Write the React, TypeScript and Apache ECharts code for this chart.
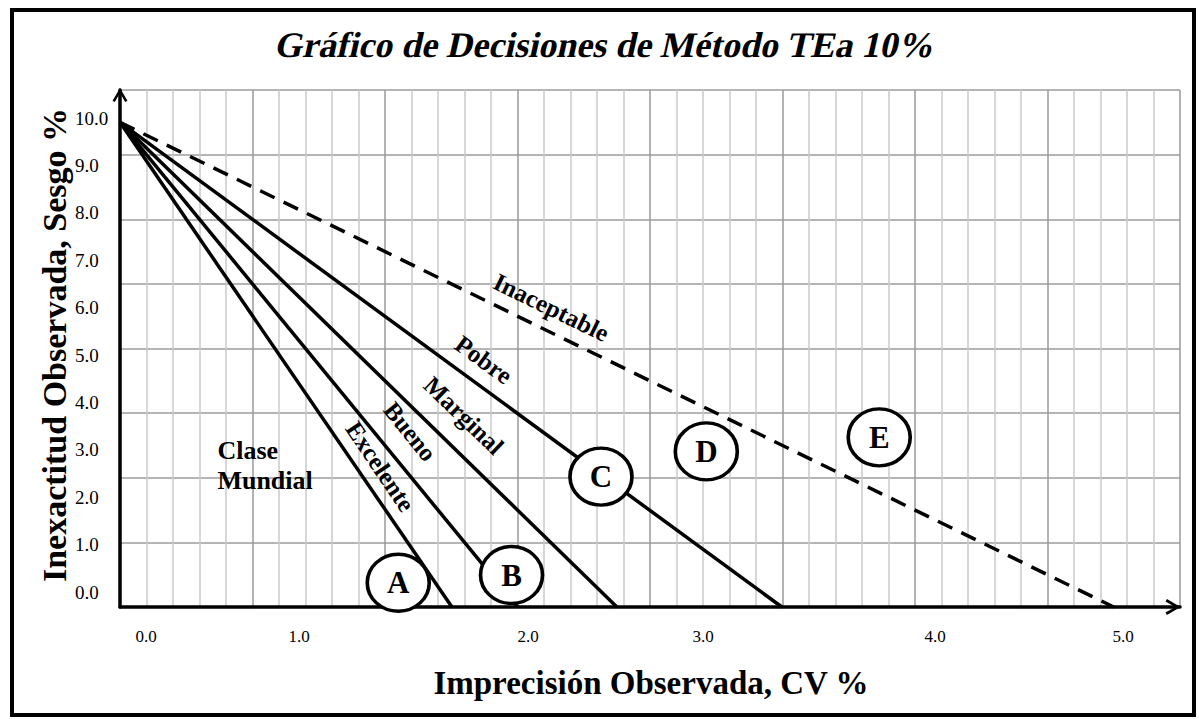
import React, { useEffect, useRef } from 'react';
import * as echarts from 'echarts';

const FONT = '"Liberation Serif", "Times New Roman", serif';

const titleText = 'Gráfico de Decisiones de Método TEa 10%';
const xAxisTitle = 'Imprecisión Observada, CV %';
const yAxisTitle = 'Inexactitud Observada, Sesgo %';

// Decision lines: from bias = TEa (y axis) down to CV intercept (x axis)
const lineNames = ['6 sigma', '5 sigma', '4 sigma', '3 sigma', '2 sigma'];
const lineStartBias = [10, 10, 10, 10, 10];
const lineEndCV = [1.67, 2.0, 2.5, 3.33, 5.0];
const lineDashed = [false, false, false, false, true];

// Zone labels written along the lines
const zoneNames = ['Excelente', 'Bueno', 'Marginal', 'Pobre', 'Inaceptable'];
const zoneCV = [1.31, 1.46, 1.73, 1.83, 2.17];
const zoneBias = [2.9, 3.62, 3.95, 5.1, 6.18];
const zoneAngle = [-56, -51, -44, -36, -26];

const worldClassName = 'Clase\nMundial';
const worldClassCV = [0.49];
const worldClassBias = [2.91];

// Circled letters
const circleLetters = ['A', 'B', 'C', 'D', 'E'];
const circleCV = [1.4, 1.97, 2.42, 2.95, 3.82];
const circleBias = [0.5, 0.66, 2.69, 3.21, 3.5];

// Tick labels
const yTickLabels = ['0.0', '1.0', '2.0', '3.0', '4.0', '5.0', '6.0', '7.0', '8.0', '9.0', '10.0'];
const xTickLabels = ['0.0', '1.0', '2.0', '3.0', '4.0', '5.0'];
const xTickLabelPx = [146, 299, 528, 703, 935, 1123];

const CHEVRON = 'path://M0,17L10,0L20,17L17,18.8L10,6.6L3,18.8Z';
const ELLIPSE = 'path://M0,50A50,50 0 1,0 100,50A50,50 0 1,0 0,50Z';

export default function App() {
  const ref = useRef<HTMLDivElement>(null);

  useEffect(() => {
    if (!ref.current) return;
    const chart = echarts.init(ref.current, null, { renderer: 'svg' });

    const lineSeries = lineNames.map((name, i) => ({
      type: 'line',
      name,
      xAxisIndex: 0,
      yAxisIndex: 0,
      data: [
        [0, lineStartBias[i]],
        [lineEndCV[i], 0],
      ],
      showSymbol: false,
      symbol: 'none',
      silent: true,
      z: 3,
      lineStyle: {
        color: '#000',
        width: 3.5,
        type: lineDashed[i] ? [16, 10] : 'solid',
      },
    }));

    const option: any = {
      animation: false,
      backgroundColor: '#fff',
      textStyle: { fontFamily: FONT },
      grid: [
        { left: 120, top: 90, width: 1060, height: 517 },
        { left: 120, top: 118, width: 1060, height: 474 },
      ],
      xAxis: [
        {
          type: 'value',
          gridIndex: 0,
          min: 0,
          max: 16 / 3,
          interval: 2 / 3,
          axisLine: {
            show: true,
            onZero: false,
            symbol: ['none', CHEVRON],
            symbolSize: [17, 15],
            symbolOffset: [0, -7],
            lineStyle: { color: '#000', width: 3.5 },
          },
          axisTick: { show: false },
          axisLabel: { show: false },
          splitLine: { show: true, lineStyle: { color: '#9a9a9a', width: 1.5 } },
          minorTick: { show: false, splitNumber: 5 },
          minorSplitLine: { show: true, lineStyle: { color: '#cacaca', width: 1.5 } },
        },
        { type: 'value', gridIndex: 1, show: false, min: 0, max: 1 },
      ],
      yAxis: [
        {
          type: 'value',
          gridIndex: 0,
          min: 0,
          max: 32 / 3,
          interval: 4 / 3,
          axisLine: {
            show: true,
            onZero: false,
            symbol: ['none', CHEVRON],
            symbolSize: [15, 14],
            symbolOffset: [0, -5],
            lineStyle: { color: '#000', width: 3.5 },
          },
          axisTick: { show: false },
          axisLabel: { show: false },
          splitLine: { show: true, lineStyle: { color: '#9c9c9c', width: 1.5 } },
        },
        {
          type: 'category',
          gridIndex: 1,
          data: yTickLabels,
          boundaryGap: false,
          axisLine: { show: false },
          axisTick: { show: false },
          splitLine: { show: false },
          axisLabel: {
            show: true,
            interval: 0,
            align: 'left',
            margin: 45,
            fontSize: 19,
            fontFamily: FONT,
            color: '#000',
          },
        },
      ],
      series: [
        ...lineSeries,
        {
          type: 'scatter',
          name: 'circles',
          xAxisIndex: 0,
          yAxisIndex: 0,
          silent: true,
          z: 5,
          symbol: ELLIPSE,
          symbolSize: [62, 57],
          itemStyle: { color: '#fff', borderColor: '#000', borderWidth: 3.5, opacity: 1 },
          label: {
            show: true,
            position: 'inside',
            formatter: '{b}',
            fontSize: 31,
            fontWeight: 'bold',
            fontFamily: FONT,
            color: '#000',
          },
          data: circleLetters.map((n, i) => ({ name: n, value: [circleCV[i], circleBias[i]] })),
        },
        {
          type: 'scatter',
          name: 'zones',
          xAxisIndex: 0,
          yAxisIndex: 0,
          silent: true,
          z: 6,
          symbolSize: 1,
          itemStyle: { color: 'rgba(255,255,255,0)', opacity: 1 },
          label: {
            show: true,
            position: 'inside',
            formatter: '{b}',
            fontSize: 25,
            fontWeight: 'bold',
            fontFamily: FONT,
            color: '#000',
            textBorderWidth: 0,
          },
          data: [
            ...zoneNames.map((n, i) => ({
              name: n,
              value: [zoneCV[i], zoneBias[i]],
              label: { rotate: zoneAngle[i] },
            })),
            {
              name: worldClassName,
              value: [worldClassCV[0], worldClassBias[0]],
              label: { align: 'left', lineHeight: 30, fontSize: 26 },
            },
          ],
        },
      ],
      graphic: [
        {
          type: 'rect',
          shape: { x: 12, y: 10, width: 1182, height: 705 },
          style: { fill: 'none', stroke: '#000', lineWidth: 4 },
          silent: true,
        },
        {
          type: 'text',
          x: 606,
          y: 45,
          skewX: -0.22,
          style: {
            text: titleText,
            fontSize: 36,
            fontWeight: 'bold',
            fontFamily: FONT,
            fill: '#000',
            align: 'center',
            verticalAlign: 'middle',
          },
        },
        {
          type: 'text',
          x: 54,
          y: 345,
          rotation: Math.PI / 2,
          style: {
            text: yAxisTitle,
            fontSize: 34,
            fontWeight: 'bold',
            fontFamily: FONT,
            fill: '#000',
            align: 'center',
            verticalAlign: 'middle',
          },
        },
        {
          type: 'text',
          x: 651,
          y: 683,
          style: {
            text: xAxisTitle,
            fontSize: 33,
            fontWeight: 'bold',
            fontFamily: FONT,
            fill: '#000',
            align: 'center',
            verticalAlign: 'middle',
          },
        },
        ...xTickLabels.map((t, i) => ({
          type: 'text',
          x: xTickLabelPx[i],
          y: 636,
          style: {
            text: t,
            fontSize: 17,
            fontFamily: FONT,
            fill: '#000',
            align: 'center',
            verticalAlign: 'middle',
          },
        })),
      ],
    };

    chart.setOption(option);
    return () => chart.dispose();
  }, []);

  return (
    <div
      ref={ref}
      style={{ position: 'absolute', left: 0, top: 0, width: 1199, height: 719, background: '#fff' }}
    />
  );
}
